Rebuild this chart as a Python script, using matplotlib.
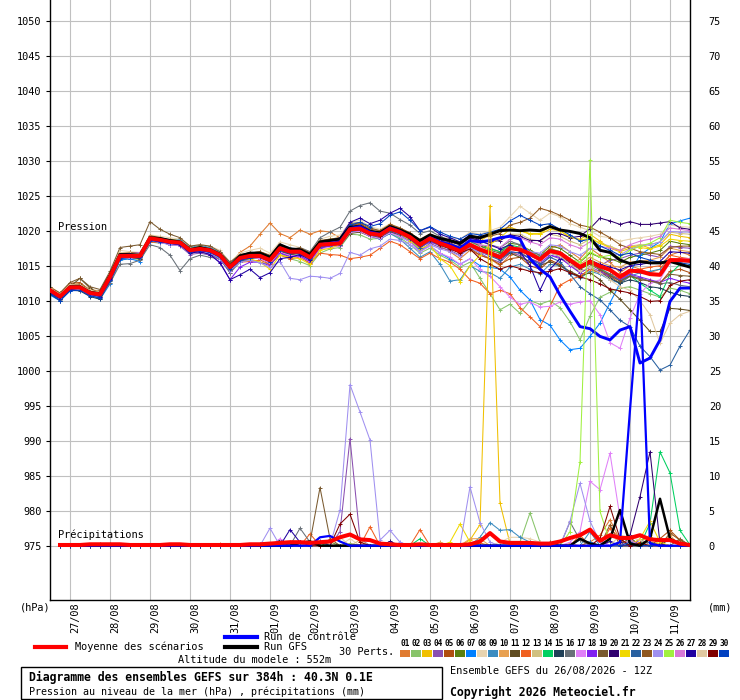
import matplotlib
matplotlib.use("Agg")
import matplotlib.pyplot as plt
from matplotlib.transforms import ScaledTranslation
from matplotlib.patches import Rectangle
from matplotlib.lines import Line2D

# GEFS ensemble run 26/08/2026 12Z, 6-hourly steps up to 384h
hours = list(range(0, 385, 6))
hours_rr = list(range(6, 385, 6))
day_hours = list(range(12, 384, 24))
day_labels = ["27/08", "28/08", "29/08", "30/08", "31/08", "01/09", "02/09", "03/09",
              "04/09", "05/09", "06/09", "07/09", "08/09", "09/09", "10/09", "11/09"]

pert_colors = ["#e07b30", "#88c46a", "#f0c000", "#8a4fb0", "#b04e10", "#5a8010",
               "#0080ff", "#e8d4b0", "#3c8cc0", "#e8a050", "#604c20", "#f06020",
               "#d0c080", "#00d060", "#204058", "#687078", "#e080f8", "#8020f0",
               "#7a5a30", "#300070", "#f0d800", "#2860a0", "#905820", "#a090f0",
               "#a0f040", "#d878d8", "#2000a0", "#e0c8a0", "#800000", "#0040c0"]

# sea level pressure (hPa)
mean_p = [1011.5, 1010.6, 1011.9, 1011.9, 1011.1, 1010.9, 1013.4, 1016.4, 1016.4, 1016.4,
          1018.9, 1018.7, 1018.4, 1018.3, 1017.2, 1017.4, 1017.2, 1016.5, 1014.8, 1016.1,
          1016.4, 1016.4, 1015.8, 1017.5, 1017.0, 1017.0, 1016.2, 1018.0, 1018.1, 1018.2,
          1020.2, 1020.3, 1019.6, 1019.4, 1020.3, 1019.8, 1019.1, 1018.0, 1018.9, 1018.2,
          1017.7, 1017.1, 1018.0, 1017.3, 1016.8, 1016.2, 1017.5, 1017.3, 1016.7, 1015.9,
          1017.1, 1016.8, 1015.8, 1014.8, 1015.6, 1014.9, 1014.4, 1013.4, 1014.3, 1014.2,
          1013.8, 1013.7, 1015.8, 1015.8, 1015.7]
ctl_p = [1011.4, 1010.5, 1011.8, 1011.9, 1011.0, 1010.8, 1013.2, 1016.4, 1016.5, 1016.3,
         1018.8, 1018.6, 1018.3, 1018.2, 1017.1, 1017.3, 1017.1, 1016.4, 1014.7, 1016.0,
         1016.3, 1016.4, 1015.8, 1017.4, 1017.0, 1017.0, 1016.2, 1018.0, 1018.2, 1018.4,
         1020.3, 1020.6, 1019.8, 1019.5, 1020.4, 1019.9, 1019.0, 1018.0, 1019.0, 1018.4,
         1018.0, 1017.5, 1018.6, 1018.4, 1018.6, 1019.0, 1019.2, 1018.8, 1016.0, 1014.5,
         1013.4, 1010.8, 1008.5, 1006.3, 1006.0, 1004.9, 1004.4, 1005.8, 1006.3, 1001.1,
         1001.8, 1004.4, 1009.9, 1011.8, 1011.8]
gfs_p = [1011.5, 1010.6, 1012.0, 1012.0, 1011.2, 1011.0, 1013.6, 1016.6, 1016.6, 1016.5,
         1019.0, 1018.9, 1018.6, 1018.4, 1017.3, 1017.6, 1017.3, 1016.6, 1014.9, 1016.4,
         1016.8, 1016.8, 1016.2, 1018.0, 1017.4, 1017.3, 1016.6, 1018.4, 1018.6, 1018.8,
         1020.5, 1020.6, 1019.9, 1019.7, 1020.6, 1020.1, 1019.5, 1018.6, 1019.4, 1018.9,
         1018.6, 1018.2, 1019.2, 1019.0, 1019.5, 1020.0, 1020.1, 1020.0, 1020.1, 1020.0,
         1020.6, 1020.1, 1019.9, 1019.6, 1019.0, 1017.2, 1016.9, 1015.8, 1015.3, 1015.6,
         1015.4, 1015.4, 1015.6, 1015.2, 1014.8]

p01 = [1011.8, 1010.9, 1012.3, 1012.0, 1011.4, 1011.0, 1013.0, 1016.0, 1016.6, 1016.8,
       1019.2, 1018.9, 1018.0, 1017.9, 1016.8, 1017.0, 1016.9, 1016.8, 1015.2, 1016.9,
       1017.8, 1019.5, 1021.1, 1019.6, 1019.0, 1020.1, 1019.5, 1020.0, 1019.8, 1019.0,
       1020.8, 1021.0, 1020.2, 1019.5, 1020.5, 1020.0, 1019.0, 1017.5, 1018.5, 1017.8,
       1017.0, 1016.0, 1017.2, 1016.5, 1016.0, 1015.0, 1016.5, 1017.0, 1016.0, 1015.5,
       1017.5, 1018.0, 1017.0, 1016.0, 1017.5, 1016.5, 1015.5, 1014.0, 1015.0, 1014.5,
       1014.0, 1014.5, 1016.5, 1017.0, 1016.5]
p02 = [1011.2, 1010.3, 1011.5, 1011.6, 1010.8, 1010.4, 1012.6, 1015.8, 1016.0, 1015.9,
       1018.4, 1018.2, 1018.6, 1018.0, 1016.9, 1017.0, 1016.6, 1016.0, 1014.2, 1015.6,
       1015.8, 1015.5, 1015.2, 1016.8, 1016.0, 1015.6, 1015.0, 1016.8, 1017.4, 1017.6,
       1019.5, 1019.4, 1018.8, 1018.9, 1019.6, 1019.0, 1018.0, 1016.8, 1017.5, 1016.5,
       1015.8, 1014.8, 1015.5, 1013.2, 1011.0, 1008.7, 1009.5, 1008.2, 1010.0, 1009.5,
       1010.0, 1009.0, 1007.0, 1004.4, 1007.8, 1010.5, 1011.2, 1011.8, 1012.0, 1011.5,
       1011.0, 1010.5, 1011.8, 1011.5, 1011.0]
p03 = [1011.6, 1010.8, 1012.0, 1012.2, 1011.3, 1011.2, 1013.8, 1016.9, 1016.7, 1016.5,
       1019.0, 1018.5, 1018.8, 1018.6, 1017.5, 1017.8, 1017.0, 1016.2, 1014.5, 1015.8,
       1016.2, 1016.0, 1015.5, 1017.0, 1016.5, 1016.8, 1016.0, 1018.5, 1018.8, 1019.0,
       1020.5, 1020.8, 1020.0, 1019.8, 1020.5, 1020.2, 1019.5, 1018.5, 1019.2, 1018.8,
       1018.5, 1018.0, 1019.0, 1018.5, 1019.5, 1020.2, 1020.5, 1020.0, 1019.5, 1019.5,
       1020.2, 1020.0, 1019.0, 1018.8, 1019.5, 1018.5, 1017.5, 1017.0, 1017.5, 1018.0,
       1017.5, 1018.0, 1019.5, 1019.2, 1019.0]
p04 = [1011.0, 1010.2, 1011.6, 1011.5, 1010.7, 1010.5, 1013.0, 1016.6, 1016.8, 1016.9,
       1019.0, 1018.8, 1018.2, 1017.8, 1016.6, 1016.8, 1016.5, 1016.0, 1014.0, 1015.8,
       1016.0, 1016.4, 1015.0, 1017.0, 1016.2, 1016.5, 1015.2, 1017.5, 1017.8, 1018.0,
       1020.0, 1020.5, 1019.2, 1019.0, 1020.0, 1019.2, 1018.6, 1017.2, 1018.2, 1017.6,
       1017.2, 1016.5, 1017.6, 1016.8, 1016.0, 1015.5, 1016.8, 1016.5, 1015.5, 1014.8,
       1016.5, 1016.0, 1015.2, 1014.5, 1015.5, 1015.0, 1015.8, 1016.0, 1016.5, 1016.8,
       1016.5, 1016.2, 1017.8, 1017.6, 1017.5]
p05 = [1011.9, 1011.0, 1012.5, 1012.6, 1011.5, 1011.1, 1013.6, 1016.2, 1016.0, 1016.1,
       1018.5, 1018.4, 1018.0, 1018.1, 1016.9, 1017.2, 1017.4, 1016.8, 1015.2, 1016.2,
       1016.8, 1017.0, 1016.5, 1018.0, 1017.5, 1017.2, 1016.5, 1018.2, 1018.5, 1018.8,
       1020.8, 1021.0, 1020.0, 1019.6, 1020.6, 1020.0, 1019.0, 1017.8, 1018.8, 1018.0,
       1017.5, 1016.8, 1017.5, 1016.5, 1016.0, 1015.2, 1016.0, 1016.2, 1015.0, 1014.5,
       1015.8, 1015.2, 1014.0, 1013.5, 1014.5, 1014.0, 1013.5, 1012.5, 1013.5, 1013.2,
       1012.8, 1012.5, 1014.2, 1014.5, 1014.0]
p06 = [1011.4, 1010.5, 1011.8, 1011.8, 1011.0, 1010.8, 1013.2, 1016.5, 1016.2, 1016.3,
       1018.7, 1018.5, 1018.3, 1018.4, 1017.4, 1017.6, 1017.5, 1016.8, 1015.0, 1016.5,
       1016.9, 1016.8, 1016.2, 1017.8, 1017.2, 1017.5, 1016.8, 1018.5, 1018.6, 1018.4,
       1020.4, 1020.6, 1019.8, 1019.6, 1020.4, 1020.0, 1019.2, 1018.0, 1019.0, 1018.5,
       1018.0, 1017.5, 1018.5, 1018.0, 1017.5, 1017.0, 1018.2, 1018.0, 1017.2, 1016.5,
       1017.8, 1017.5, 1016.5, 1015.5, 1016.8, 1016.2, 1016.0, 1015.5, 1016.2, 1016.5,
       1016.8, 1017.2, 1018.5, 1018.2, 1018.0]
p07 = [1010.8, 1010.0, 1011.4, 1011.6, 1010.9, 1010.2, 1012.4, 1015.8, 1016.0, 1015.6,
       1018.6, 1018.9, 1018.7, 1018.2, 1017.0, 1017.3, 1017.0, 1016.2, 1014.6, 1016.0,
       1016.6, 1016.9, 1016.4, 1017.8, 1017.6, 1017.0, 1016.4, 1018.4, 1018.2, 1018.5,
       1020.4, 1020.2, 1019.4, 1019.0, 1019.8, 1019.2, 1018.4, 1017.2, 1017.8, 1016.8,
       1016.0, 1015.2, 1016.0, 1015.0, 1014.8, 1014.5, 1013.4, 1011.5, 1010.1, 1007.3,
       1006.5, 1004.4, 1003.0, 1003.2, 1004.9, 1006.8, 1009.7, 1012.5, 1014.0, 1016.5,
       1017.5, 1018.4, 1021.0, 1021.4, 1021.8]
p08 = [1011.7, 1010.9, 1012.2, 1012.3, 1011.6, 1011.3, 1014.0, 1017.2, 1017.0, 1016.9,
       1019.4, 1019.2, 1019.0, 1018.8, 1017.8, 1018.0, 1017.8, 1017.2, 1015.5, 1016.8,
       1017.2, 1017.5, 1016.8, 1018.4, 1018.0, 1017.6, 1017.0, 1018.8, 1019.2, 1019.4,
       1021.2, 1021.5, 1020.6, 1020.2, 1021.0, 1020.4, 1019.6, 1018.8, 1019.6, 1019.0,
       1019.0, 1018.8, 1019.8, 1019.5, 1020.0, 1020.5, 1022.0, 1023.5, 1022.5, 1021.5,
       1022.5, 1022.0, 1021.0, 1020.5, 1020.0, 1019.2, 1019.0, 1018.5, 1018.8, 1019.0,
       1019.2, 1019.5, 1020.8, 1020.6, 1020.5]
p09 = [1011.3, 1010.4, 1011.7, 1012.0, 1011.2, 1010.9, 1013.5, 1016.3, 1016.6, 1016.2,
       1018.8, 1018.5, 1018.6, 1018.7, 1017.6, 1017.9, 1017.6, 1016.9, 1015.4, 1016.4,
       1016.5, 1016.2, 1015.6, 1017.2, 1016.8, 1016.6, 1016.0, 1017.6, 1017.8, 1018.0,
       1019.8, 1020.0, 1019.2, 1018.8, 1019.6, 1018.8, 1017.5, 1016.2, 1017.0, 1015.2,
       1012.8, 1013.0, 1015.0, 1014.2, 1014.0, 1013.2, 1014.8, 1015.2, 1014.5, 1013.8,
       1015.2, 1015.0, 1014.0, 1013.2, 1014.2, 1013.8, 1013.0, 1012.5, 1013.5, 1014.0,
       1014.2, 1014.5, 1015.8, 1015.6, 1015.5]
p10 = [1012.0, 1011.1, 1012.4, 1012.4, 1011.6, 1011.4, 1013.9, 1016.8, 1016.9, 1016.7,
       1019.1, 1018.8, 1018.5, 1018.4, 1017.4, 1017.5, 1017.3, 1016.6, 1014.9, 1016.3,
       1016.6, 1016.8, 1016.3, 1017.6, 1017.3, 1017.4, 1016.6, 1018.3, 1018.4, 1018.6,
       1020.6, 1020.5, 1019.8, 1019.8, 1020.8, 1020.3, 1019.4, 1018.2, 1019.2, 1018.4,
       1017.8, 1017.0, 1018.2, 1017.2, 1016.6, 1016.0, 1017.4, 1017.8, 1017.0, 1016.2,
       1017.5, 1017.0, 1016.0, 1015.2, 1016.2, 1015.5, 1015.0, 1014.8, 1015.5, 1015.6,
       1015.8, 1016.2, 1017.5, 1017.2, 1017.0]
p11 = [1011.5, 1010.6, 1012.0, 1013.2, 1011.8, 1011.0, 1013.0, 1016.0, 1016.2, 1016.4,
       1018.6, 1018.4, 1018.0, 1018.0, 1017.0, 1017.0, 1016.8, 1016.4, 1014.4, 1015.9,
       1016.2, 1016.0, 1015.6, 1017.2, 1016.6, 1016.9, 1016.0, 1017.8, 1018.0, 1017.8,
       1019.6, 1019.8, 1019.2, 1019.0, 1019.8, 1019.4, 1018.8, 1017.6, 1018.6, 1018.0,
       1017.6, 1017.2, 1018.0, 1017.2, 1016.6, 1016.0, 1016.8, 1016.2, 1015.6, 1015.0,
       1015.6, 1015.0, 1014.2, 1013.5, 1014.0, 1013.0, 1011.5, 1010.2, 1008.7, 1007.2,
       1005.6, 1005.6, 1008.9, 1008.8, 1008.6]
p12 = [1011.2, 1010.3, 1011.8, 1011.9, 1011.0, 1010.7, 1013.2, 1016.2, 1016.1, 1016.0,
       1018.4, 1018.3, 1018.1, 1017.9, 1016.9, 1017.1, 1017.0, 1016.3, 1014.6, 1015.5,
       1015.6, 1015.8, 1015.2, 1016.5, 1016.0, 1016.2, 1015.4, 1016.8, 1016.6, 1016.5,
       1016.0, 1016.2, 1016.5, 1017.5, 1018.5, 1018.0, 1017.0, 1016.0, 1016.8, 1016.0,
       1015.5, 1014.5, 1013.0, 1012.5, 1011.0, 1011.5, 1011.0, 1009.0, 1007.7, 1006.3,
       1009.2, 1012.2, 1013.0, 1013.5, 1014.5, 1014.0, 1013.8, 1013.0, 1014.0, 1014.5,
       1014.8, 1015.0, 1016.5, 1016.2, 1016.0]
p13 = [1011.8, 1010.8, 1012.0, 1012.1, 1011.3, 1011.2, 1013.7, 1016.7, 1016.5, 1016.6,
       1019.0, 1018.6, 1018.5, 1018.5, 1017.3, 1017.6, 1017.4, 1016.6, 1015.0, 1016.3,
       1016.4, 1016.6, 1016.0, 1017.6, 1017.1, 1017.2, 1016.4, 1018.2, 1018.4, 1018.5,
       1020.4, 1020.4, 1019.8, 1019.5, 1020.4, 1019.9, 1019.2, 1018.3, 1019.1, 1018.5,
       1018.2, 1017.8, 1018.8, 1018.3, 1018.5, 1018.8, 1019.5, 1019.5, 1018.8, 1018.5,
       1019.5, 1019.2, 1018.5, 1018.0, 1018.8, 1018.2, 1017.8, 1017.2, 1017.8, 1018.0,
       1018.0, 1018.4, 1019.8, 1019.6, 1019.5]
p14 = [1011.3, 1010.5, 1011.9, 1011.8, 1011.0, 1010.8, 1013.3, 1016.4, 1016.5, 1016.6,
       1018.9, 1018.6, 1018.4, 1018.2, 1017.1, 1017.3, 1017.1, 1016.4, 1014.7, 1016.0,
       1016.3, 1016.5, 1016.0, 1017.4, 1016.9, 1017.0, 1016.3, 1018.1, 1018.2, 1018.3,
       1020.2, 1020.4, 1019.6, 1019.4, 1020.2, 1019.7, 1019.0, 1017.9, 1018.8, 1018.2,
       1017.8, 1017.4, 1018.4, 1017.8, 1017.4, 1017.0, 1018.0, 1017.6, 1016.8, 1016.2,
       1017.4, 1017.0, 1015.8, 1014.8, 1015.6, 1014.6, 1013.8, 1012.8, 1013.6, 1012.5,
       1011.5, 1010.6, 1013.8, 1015.2, 1015.0]
p15 = [1011.0, 1010.0, 1011.5, 1011.4, 1010.6, 1010.2, 1012.8, 1016.0, 1016.2, 1016.0,
       1018.5, 1018.4, 1018.2, 1018.0, 1016.8, 1017.0, 1016.8, 1016.0, 1014.2, 1015.6,
       1016.0, 1016.2, 1015.4, 1017.0, 1016.6, 1016.8, 1016.0, 1017.6, 1017.9, 1018.0,
       1019.9, 1020.0, 1019.4, 1019.2, 1020.0, 1019.6, 1018.9, 1017.8, 1018.6, 1018.0,
       1017.5, 1017.0, 1018.0, 1017.5, 1017.0, 1016.5, 1017.6, 1017.2, 1016.4, 1015.8,
       1016.8, 1016.4, 1015.2, 1014.0, 1014.8, 1014.0, 1013.2, 1012.5, 1013.0, 1012.6,
       1012.0, 1011.8, 1011.2, 1010.8, 1010.6]
p16 = [1011.0, 1010.1, 1011.5, 1011.6, 1010.9, 1010.5, 1012.5, 1015.2, 1015.3, 1015.8,
       1018.0, 1017.6, 1016.5, 1014.3, 1016.0, 1016.5, 1016.2, 1016.0, 1014.0, 1015.5,
       1016.0, 1016.6, 1016.0, 1017.4, 1017.2, 1017.6, 1017.0, 1019.0, 1019.8, 1020.5,
       1022.8, 1023.6, 1024.0, 1022.8, 1022.5, 1021.6, 1020.8, 1019.6, 1020.0, 1019.2,
       1018.6, 1018.0, 1019.0, 1018.5, 1018.0, 1017.6, 1018.5, 1018.0, 1017.0, 1016.5,
       1017.2, 1016.5, 1015.5, 1014.8, 1015.5, 1014.5, 1013.8, 1013.0, 1013.6, 1013.2,
       1012.8, 1012.4, 1012.6, 1012.2, 1012.0]
p17 = [1011.4, 1010.6, 1011.8, 1011.7, 1010.9, 1010.6, 1013.1, 1016.1, 1016.3, 1016.2,
       1018.6, 1018.4, 1018.0, 1017.9, 1016.9, 1017.2, 1017.0, 1016.3, 1014.6, 1015.9,
       1016.2, 1016.0, 1015.4, 1016.9, 1016.5, 1016.3, 1015.6, 1017.4, 1017.6, 1017.8,
       1019.8, 1019.9, 1019.2, 1018.9, 1019.7, 1019.2, 1018.4, 1017.0, 1017.8, 1016.8,
       1016.2, 1015.2, 1016.0, 1014.5, 1013.5, 1012.0, 1010.5, 1009.5, 1009.8, 1009.1,
       1009.2, 1009.8, 1009.5, 1009.8, 1010.0, 1008.0, 1004.0, 1003.2, 1007.5, 1011.0,
       1012.5, 1013.0, 1015.5, 1016.0, 1016.0]
p18 = [1011.6, 1010.7, 1012.0, 1012.0, 1011.2, 1011.0, 1013.5, 1016.6, 1016.8, 1016.8,
       1019.0, 1018.8, 1018.4, 1018.3, 1017.0, 1017.2, 1016.6, 1015.5, 1013.0, 1014.8,
       1015.5, 1015.5, 1015.0, 1016.8, 1016.3, 1016.4, 1015.6, 1017.6, 1017.8, 1018.0,
       1020.0, 1020.2, 1019.5, 1019.2, 1020.0, 1019.5, 1018.8, 1017.6, 1018.4, 1017.9,
       1017.5, 1016.9, 1017.8, 1017.0, 1016.5, 1016.0, 1017.0, 1016.8, 1016.0, 1015.4,
       1016.5, 1016.2, 1015.0, 1014.0, 1014.8, 1014.2, 1013.5, 1013.0, 1013.8, 1013.4,
       1013.0, 1012.6, 1013.2, 1012.8, 1012.5]
p19 = [1011.9, 1011.1, 1012.6, 1013.2, 1012.0, 1011.6, 1014.2, 1017.6, 1017.8, 1018.0,
       1021.3, 1020.2, 1019.5, 1019.0, 1017.8, 1018.0, 1017.8, 1017.0, 1015.5, 1016.6,
       1016.8, 1017.0, 1016.4, 1018.0, 1017.4, 1017.5, 1016.8, 1018.6, 1018.8, 1019.0,
       1021.0, 1021.2, 1020.4, 1020.0, 1020.8, 1020.2, 1019.4, 1018.4, 1019.2, 1018.6,
       1018.2, 1017.6, 1018.6, 1017.8, 1017.2, 1016.8, 1017.8, 1017.4, 1016.6, 1016.0,
       1017.0, 1016.6, 1015.5, 1014.5, 1015.2, 1014.4, 1013.6, 1012.8, 1013.5, 1013.0,
       1012.8, 1012.6, 1013.8, 1013.6, 1013.5]
p20 = [1011.5, 1010.6, 1012.0, 1012.0, 1011.3, 1010.9, 1013.4, 1016.5, 1016.6, 1016.5,
       1018.8, 1018.6, 1018.4, 1018.4, 1017.3, 1017.5, 1017.2, 1016.6, 1014.9, 1016.2,
       1016.6, 1016.7, 1016.0, 1017.7, 1017.2, 1017.3, 1016.5, 1018.3, 1018.5, 1018.6,
       1020.6, 1020.8, 1020.0, 1019.8, 1020.7, 1020.2, 1019.4, 1018.4, 1019.3, 1018.7,
       1018.4, 1018.0, 1019.0, 1018.6, 1018.4, 1018.6, 1019.4, 1019.2, 1018.6, 1018.6,
       1019.6, 1019.6, 1019.0, 1019.2, 1020.3, 1021.8, 1021.4, 1020.9, 1021.3, 1020.9,
       1020.9, 1021.1, 1021.3, 1020.4, 1020.2]
p21 = [1011.7, 1010.8, 1012.1, 1012.1, 1011.4, 1011.1, 1013.6, 1016.5, 1016.4, 1016.6,
       1018.8, 1018.6, 1018.3, 1018.2, 1017.2, 1017.4, 1017.2, 1016.5, 1014.6, 1016.0,
       1016.0, 1015.5, 1014.5, 1016.5, 1016.2, 1016.0, 1015.2, 1017.2, 1017.5, 1018.0,
       1020.0, 1020.5, 1019.6, 1019.4, 1020.2, 1019.6, 1018.6, 1017.4, 1018.0, 1016.0,
       1015.0, 1012.7, 1015.0, 1016.5, 1018.0, 1019.0, 1020.2, 1020.0, 1019.6, 1019.6,
       1020.6, 1020.0, 1019.2, 1018.6, 1019.0, 1018.2, 1017.6, 1017.2, 1017.8, 1017.6,
       1017.4, 1017.8, 1018.8, 1018.6, 1018.5]
p22 = [1011.1, 1010.2, 1011.6, 1011.7, 1010.9, 1010.6, 1013.0, 1016.2, 1016.3, 1016.2,
       1018.6, 1018.5, 1018.2, 1018.1, 1017.0, 1017.2, 1017.0, 1016.3, 1014.5, 1015.9,
       1016.2, 1016.2, 1015.6, 1017.2, 1016.8, 1016.8, 1016.0, 1017.8, 1018.0, 1018.0,
       1019.9, 1020.1, 1019.4, 1019.2, 1020.0, 1019.6, 1018.8, 1017.6, 1018.6, 1017.9,
       1017.4, 1016.9, 1017.8, 1017.0, 1016.4, 1015.8, 1017.0, 1016.8, 1016.0, 1015.2,
       1016.2, 1015.6, 1013.8, 1012.0, 1011.0, 1010.1, 1008.7, 1007.2, 1006.3, 1003.5,
       1002.0, 1000.1, 1000.8, 1003.5, 1005.8]
p23 = [1011.6, 1010.7, 1012.2, 1012.4, 1011.5, 1011.2, 1013.8, 1016.8, 1016.9, 1016.7,
       1019.3, 1019.0, 1018.7, 1018.5, 1017.4, 1017.6, 1017.4, 1016.8, 1015.0, 1016.4,
       1016.7, 1016.9, 1016.2, 1017.8, 1017.4, 1017.5, 1016.8, 1018.5, 1018.7, 1018.9,
       1020.8, 1021.0, 1020.2, 1020.0, 1020.9, 1020.4, 1019.7, 1018.7, 1019.5, 1018.9,
       1018.6, 1018.2, 1019.4, 1019.0, 1019.2, 1019.6, 1020.8, 1021.2, 1021.8, 1023.2,
       1022.8, 1022.2, 1021.5, 1020.8, 1020.5, 1019.8, 1019.0, 1018.0, 1017.5, 1017.0,
       1016.8, 1016.6, 1017.6, 1017.8, 1017.8]
p24 = [1011.3, 1010.4, 1011.7, 1011.6, 1010.8, 1010.6, 1013.0, 1016.0, 1016.1, 1016.2,
       1018.6, 1018.3, 1018.0, 1017.9, 1016.8, 1017.0, 1016.8, 1016.0, 1014.3, 1015.5,
       1015.8, 1015.4, 1014.8, 1015.6, 1013.2, 1013.0, 1013.5, 1013.4, 1013.2, 1013.9,
       1016.9, 1016.5, 1017.4, 1017.8, 1018.8, 1018.6, 1018.0, 1017.0, 1018.0, 1017.4,
       1017.0, 1016.4, 1017.5, 1016.9, 1016.6, 1016.2, 1017.4, 1017.6, 1017.0, 1016.8,
       1018.0, 1017.8, 1017.0, 1016.5, 1017.5, 1017.2, 1016.8, 1016.5, 1017.4, 1017.8,
       1018.0, 1018.4, 1019.9, 1019.8, 1019.8]
p25 = [1011.5, 1010.7, 1012.0, 1011.9, 1011.2, 1011.0, 1013.5, 1016.6, 1016.4, 1016.5,
       1018.9, 1018.7, 1018.5, 1018.3, 1017.2, 1017.5, 1017.3, 1016.6, 1014.8, 1016.1,
       1016.4, 1016.4, 1015.8, 1017.5, 1017.0, 1017.0, 1016.2, 1018.0, 1018.1, 1018.2,
       1020.2, 1020.3, 1019.6, 1019.4, 1020.3, 1019.8, 1019.1, 1018.0, 1018.9, 1018.2,
       1017.7, 1017.1, 1018.0, 1017.3, 1016.8, 1016.2, 1017.5, 1017.3, 1016.7, 1015.9,
       1017.1, 1016.8, 1015.8, 1015.6, 1017.0, 1016.2, 1016.5, 1016.2, 1017.2, 1017.8,
       1018.2, 1019.0, 1021.5, 1021.2, 1021.0]
p26 = [1011.7, 1010.8, 1012.1, 1012.0, 1011.2, 1011.0, 1013.6, 1016.7, 1016.6, 1016.4,
       1018.8, 1018.7, 1018.6, 1018.4, 1017.4, 1017.6, 1017.4, 1016.7, 1015.0, 1016.3,
       1016.6, 1016.6, 1016.0, 1017.6, 1017.1, 1017.2, 1016.4, 1018.2, 1018.3, 1018.5,
       1020.5, 1020.6, 1019.9, 1019.6, 1020.5, 1020.0, 1019.3, 1018.2, 1019.1, 1018.4,
       1018.0, 1017.5, 1018.6, 1018.0, 1017.8, 1017.6, 1018.8, 1019.0, 1018.4, 1018.0,
       1019.0, 1018.8, 1018.0, 1017.5, 1018.4, 1017.8, 1017.5, 1017.2, 1018.0, 1018.5,
       1018.8, 1019.2, 1020.4, 1020.2, 1020.0]
p27 = [1011.2, 1010.3, 1011.6, 1011.8, 1011.0, 1010.6, 1013.1, 1016.3, 1016.5, 1016.4,
       1018.7, 1018.5, 1018.2, 1018.0, 1016.8, 1017.0, 1016.6, 1015.4, 1013.0, 1013.7,
       1014.5, 1013.3, 1014.0, 1016.0, 1016.2, 1016.6, 1015.8, 1018.0, 1018.6, 1019.0,
       1021.2, 1021.8, 1021.0, 1021.5, 1022.5, 1023.2, 1022.0, 1020.0, 1020.5, 1019.5,
       1019.0, 1018.4, 1019.4, 1018.6, 1018.0, 1017.4, 1018.0, 1017.0, 1015.0, 1011.5,
       1014.5, 1016.0, 1015.6, 1014.8, 1015.8, 1015.2, 1014.8, 1014.4, 1015.0, 1015.2,
       1015.4, 1015.6, 1017.0, 1016.9, 1016.8]
p28 = [1011.8, 1010.9, 1012.3, 1012.2, 1011.5, 1011.2, 1013.8, 1016.9, 1016.8, 1016.7,
       1019.1, 1018.9, 1018.6, 1018.4, 1017.4, 1017.6, 1017.3, 1016.6, 1014.9, 1016.3,
       1016.6, 1016.7, 1016.1, 1017.6, 1017.2, 1017.2, 1016.5, 1018.2, 1018.4, 1018.5,
       1020.4, 1020.5, 1019.8, 1019.6, 1020.5, 1020.0, 1019.3, 1018.2, 1019.0, 1018.4,
       1018.0, 1017.4, 1018.3, 1017.6, 1017.0, 1016.4, 1017.6, 1017.4, 1016.6, 1015.8,
       1016.8, 1016.4, 1015.2, 1014.2, 1014.8, 1014.0, 1013.0, 1012.0, 1011.5, 1010.0,
       1008.0, 1003.9, 1006.8, 1008.0, 1008.5]
p29 = [1011.6, 1010.6, 1011.9, 1012.0, 1011.2, 1010.9, 1013.3, 1016.4, 1016.5, 1016.4,
       1018.9, 1018.7, 1018.4, 1018.3, 1017.2, 1017.4, 1017.2, 1016.5, 1014.8, 1016.1,
       1016.4, 1016.5, 1015.9, 1017.4, 1017.0, 1017.0, 1016.3, 1018.0, 1018.2, 1018.2,
       1020.1, 1020.2, 1019.6, 1019.3, 1020.2, 1019.7, 1019.0, 1017.9, 1018.7, 1018.0,
       1017.4, 1016.8, 1017.4, 1016.0, 1015.2, 1014.5, 1015.0, 1014.6, 1014.2, 1014.0,
       1014.2, 1014.6, 1014.0, 1013.4, 1013.0, 1012.4, 1011.7, 1011.4, 1011.1, 1010.6,
       1009.9, 1010.0, 1012.2, 1012.8, 1013.0]
p30 = [1011.0, 1010.0, 1011.4, 1011.5, 1010.7, 1010.4, 1012.9, 1016.0, 1016.2, 1016.3,
       1018.6, 1018.4, 1018.2, 1018.1, 1017.0, 1017.2, 1016.9, 1016.2, 1014.5, 1015.8,
       1016.1, 1016.3, 1015.6, 1017.3, 1016.8, 1016.9, 1016.1, 1018.0, 1018.4, 1018.8,
       1020.8, 1021.2, 1020.6, 1021.0, 1022.2, 1022.7, 1021.5, 1020.0, 1020.6, 1019.8,
       1019.2, 1018.8, 1019.6, 1019.4, 1019.8, 1020.2, 1021.4, 1022.2, 1021.5, 1020.8,
       1021.0, 1020.2, 1019.4, 1018.5, 1018.8, 1017.8, 1017.2, 1016.5, 1016.8, 1016.2,
       1015.8, 1015.5, 1015.8, 1015.4, 1015.2]

# 6h precipitation (mm), steps 6h..384h
mean_rr = [0.1, 0.1, 0.1, 0.2, 0.2, 0.2, 0.2, 0.1, 0.1, 0.1, 0.1, 0.2, 0.2, 0.1, 0.1, 0.1,
           0.1, 0.1, 0.1, 0.2, 0.2, 0.3, 0.4, 0.5, 0.5, 0.4, 0.5, 0.6, 1.2, 1.6, 0.9, 0.8,
           0.3, 0.2, 0.1, 0.1, 0.2, 0.1, 0.1, 0.1, 0.1, 0.2, 0.6, 1.8, 0.6, 0.4, 0.4, 0.4,
           0.3, 0.3, 0.6, 1.1, 1.5, 2.3, 0.7, 1.5, 1.1, 1.1, 1.5, 0.9, 0.8, 0.8, 0.3, 0.1]
ctl_rr = [0, 0, 0, 0, 0, 0, 0, 0, 0, 0, 0, 0, 0, 0, 0, 0,
          0, 0, 0, 0, 0, 0, 0, 0, 0, 0, 1.2, 1.4, 0.6, 0, 0, 0,
          0, 0, 0, 0, 0, 0, 0, 0, 0, 0, 0, 0, 0, 0, 0, 0,
          0, 0, 0, 0, 0, 0, 0, 0, 0.5, 19.4, 37.5, 0.3, 0, 0, 0, 0]
gfs_rr = [0, 0, 0, 0, 0, 0, 0, 0, 0, 0, 0, 0, 0, 0, 0, 0,
          0, 0, 0, 0, 0, 0, 0, 0, 0.4, 0.6, 0, 0, 0, 0, 0, 0,
          0, 0, 0, 0, 0, 0, 0, 0, 0, 0, 0, 0, 0, 0, 0, 0,
          0, 0, 0, 0, 1.0, 0.3, 0, 1.0, 5.1, 0.3, 0, 1.0, 6.7, 1.0, 0.2, 0]

r01 = [0, 0, 0, 0, 0, 0, 0, 0, 0, 0, 0, 0, 0, 0, 0, 0,
       0.3, 0, 0, 0, 0, 0, 0.5, 0, 0, 0, 0, 0, 0, 0.3, 0, 0,
       0, 0, 0, 0, 0, 0, 0, 0, 0, 0, 0.4, 0, 0, 0, 0, 0,
       0, 0, 0, 0.3, 0, 0.5, 1.5, 3.7, 0.8, 0, 0.3, 0.5, 0.2, 0, 0, 0]
r02 = [0, 0, 0, 0, 0, 0, 0, 0, 0, 0, 0, 0, 0, 0, 0, 0,
       0, 0, 0, 0, 0, 0, 0, 0, 0, 0, 0, 0, 0, 0.3, 0, 0,
       0, 0, 0, 0, 0, 0, 0, 0, 0, 0, 0, 0, 0, 0, 0.5, 4.7,
       0.5, 0, 0, 0, 0, 0, 0, 0, 0, 0, 0, 0, 0, 0, 0, 0]
r03 = [0, 0, 0, 0, 0, 0, 0, 0, 0, 0, 0, 0, 0, 0, 0, 0,
       0, 0, 0, 0, 0, 0, 0, 0, 0, 0, 0, 0, 0, 0, 0, 0,
       0, 0, 0, 0, 0, 0, 0, 0, 0, 0.8, 3.0, 48.6, 6.1, 0.3, 0, 0,
       0, 0, 0, 0, 0, 0, 0, 0, 0, 0, 0.5, 1.5, 0, 0, 0, 0]
r04 = [0, 0, 0, 0, 0, 0, 0, 0, 0, 0, 0, 0, 0, 0, 0, 0,
       0, 0, 0, 0, 0, 0, 0, 0, 0, 0, 0.5, 0, 2.0, 15.3, 1.0, 0,
       0, 0, 0, 0, 0, 0, 0, 0, 0, 0, 0, 0, 0, 0, 0, 0,
       0, 0, 0, 0, 0, 0, 0, 0, 0, 0, 0, 0, 0, 0, 0, 0]
r05 = [0, 0, 0, 0, 0, 0, 0, 0, 0, 0, 0, 0, 0, 0, 0, 0,
       0, 0, 0, 0, 0, 0, 0, 0, 0, 0, 0, 0, 0, 0, 0, 0,
       0, 0, 0, 0, 0, 0, 0, 0, 0, 0, 0, 0, 0, 0, 0, 0,
       0, 0, 0, 0, 0, 0.5, 0, 0, 0, 0, 0, 0, 1.0, 2.2, 0.8, 0]
r06 = [0, 0, 0, 0, 0.3, 0.3, 0, 0, 0, 0, 0, 0, 0, 0, 0, 0,
       0, 0, 0, 0, 0, 0, 0, 0, 0, 0, 0, 0.5, 0, 0, 0, 0,
       0, 0, 0, 0, 0, 0, 0, 0, 0, 0, 0, 0, 0, 0, 0, 0,
       0, 0, 0, 0, 0, 0, 0, 0, 0, 0.8, 0, 0, 0, 0, 0, 0]
r07 = [0, 0, 0, 0, 0, 0, 0, 0, 0, 0, 0, 0, 0, 0, 0, 0,
       0, 0, 0, 0, 0, 0, 0, 0, 0.5, 0, 0, 0, 0, 0, 0, 0,
       0, 0, 0, 0, 0, 0, 0, 0, 0, 0, 0, 0, 0, 0, 0, 0,
       0, 0, 0, 0, 0.8, 0.5, 0, 0, 0, 0, 0, 0, 0, 0, 0, 0]
r08 = [0, 0, 0, 0, 0, 0, 0, 0, 0, 0, 0, 0, 0, 0, 0, 0,
       0, 0, 0, 0, 0, 0, 0, 0, 0, 0, 0, 0, 0, 1.0, 0, 0,
       0, 0, 0, 0, 0, 0, 0, 0, 0, 0, 0, 0, 0.5, 1.2, 1.2, 1.0,
       0.5, 0, 0, 0, 0, 0, 0, 0, 0, 0, 0, 0, 0, 0, 0, 0]
r09 = [0, 0, 0, 0, 0, 0, 0, 0, 0, 0, 0, 0, 0, 0, 0, 0,
       0, 0, 0, 0, 0, 0, 0, 0, 0, 0, 0, 0, 0, 0, 0, 0,
       0, 0, 0, 0, 0, 0, 0, 0, 0, 0, 1.2, 3.3, 2.2, 2.3, 1.2, 0.5,
       0, 0, 0, 0, 0, 2.0, 0, 0, 0, 0, 0, 0, 0, 0, 0, 0]
r10 = [0, 0, 0, 0, 0, 0, 0, 0, 0, 0, 0, 0, 0, 0, 0, 0,
       0, 0, 0, 0, 0, 0, 0, 0, 0, 0, 0, 0, 0, 0, 0, 0,
       0, 0, 0, 0, 0, 0, 0.5, 0, 0, 1.0, 1.0, 0, 0, 0, 0, 0,
       0, 0, 0, 0, 0, 0, 0, 0, 0, 0, 0, 0, 0, 1.5, 0, 0]
r11 = [0, 0, 0, 0, 0, 0, 0, 0, 0, 0, 0, 0, 0, 0, 0, 0,
       0, 0, 0, 0, 0, 0, 0, 0, 0, 0, 0, 0, 0, 0, 0, 0,
       0, 0, 0, 0, 0, 0, 0, 0, 0, 0, 0, 0, 0, 0, 0, 0,
       0, 0, 0, 0, 0, 0, 0, 0, 0, 1.2, 0, 0, 0, 1.0, 0, 0]
r12 = [0, 0, 0, 0, 0, 0, 0, 0, 0, 0, 0, 0, 0, 0, 0, 0,
       0, 0, 0, 0, 0, 0, 0, 0, 0, 1.7, 0, 0, 0, 0, 0, 2.7,
       0, 0, 0, 0, 2.3, 0, 0, 0, 0, 0, 0, 0, 0, 0, 0, 0,
       0, 0, 0, 0, 1.5, 0, 0, 2.5, 1.0, 0, 0, 0, 0, 0, 0, 0]
r13 = [0, 0, 0, 0, 0, 0, 0, 0, 0, 0, 0, 0, 0, 0, 0, 0,
       0, 0, 0, 0, 0, 0, 0, 0, 0, 0, 0, 0, 0, 0, 0.8, 0,
       0, 0, 0, 0, 0, 0, 0, 0, 0, 0, 0, 0, 0, 0, 0, 0,
       0, 0.5, 0, 0, 0, 0, 0, 0, 0, 0, 1.0, 0, 0, 0, 0, 0]
r14 = [0, 0, 0, 0, 0, 0, 0, 0, 0, 0, 0, 0, 0, 0, 0, 0,
       0, 0, 0, 0, 0, 0, 0, 0, 0, 0, 0, 0, 0, 0, 0, 0,
       0, 0, 0, 0, 1.0, 0, 0, 0, 0, 0, 0, 0, 0, 0, 0, 0,
       0, 0, 0, 0, 0, 0, 0, 0, 0, 0, 0, 3.2, 13.4, 10.4, 2.2, 0.1]
r15 = [0, 0, 0, 0, 0, 0, 0, 0, 0, 0, 0, 0, 0, 0, 0, 0,
       0, 0, 0, 0, 0, 0, 0.8, 0, 0, 0, 0, 0, 0, 0, 0, 0,
       0, 0, 0, 0, 0, 0, 0, 0, 0, 0, 0, 0, 0, 0, 0, 0,
       0, 0, 0, 0, 0, 0, 0, 0, 0.5, 0, 0, 0, 0, 0, 0, 0]
r16 = [0, 0, 0, 0, 0, 0, 0, 0, 0, 0, 0, 0, 0, 0, 0, 0,
       0, 0, 0, 0, 0, 0, 0, 0, 2.5, 0.5, 0, 0, 0, 0, 0, 0,
       0, 0, 0, 0, 0, 0, 0, 0, 0, 0, 0, 0, 0, 0, 0, 0,
       0, 0, 0, 3.4, 0.8, 0, 0, 0, 0, 0, 0, 0, 0, 0, 0, 0]
r17 = [0, 0, 0, 0, 0, 0, 0, 0, 0, 0, 0, 0, 0, 0, 0, 0,
       0, 0, 0, 0, 0, 0, 1.0, 0, 0, 0, 0, 0, 0, 0, 0, 0,
       0, 0, 0, 0, 0, 0, 0, 0, 0, 0, 0, 0, 0, 0, 0, 0,
       0, 0, 0, 0.5, 2.0, 9.2, 8.0, 13.2, 4.0, 0.5, 0, 0, 0, 0, 0, 0]
r18 = [0, 0, 0, 0, 0, 0, 0, 0, 0, 0, 0, 0, 0, 0, 0, 0,
       0, 0, 0, 0, 0, 0, 0, 0.5, 0, 0, 0, 0, 0, 0, 0, 0,
       0, 0, 0, 0, 0, 0, 0, 0, 0, 0, 0, 0, 0, 0, 0, 0,
       0, 0, 0, 0, 0, 0, 0, 0, 0, 0, 0.8, 0, 0, 0, 0, 0]
r19 = [0, 0, 0, 0, 0, 0, 0, 0, 0, 0, 0, 0, 0, 0, 0, 0,
       0, 0, 0, 0, 0, 0, 0, 0, 0, 0.5, 8.3, 1.0, 0, 0, 0, 0,
       0, 0, 0, 0, 0, 0, 0, 0, 0, 0, 0, 0, 0, 0, 0, 0,
       0, 0, 0, 0, 0, 0, 0, 0, 0, 0, 0, 0, 0, 0, 1.0, 0]
r20 = [0, 0, 0, 0, 0, 0, 0, 0, 0, 0, 0, 0, 0, 0, 0, 0,
       0, 0, 0, 0, 0, 0, 0, 0, 0.5, 0, 0, 0, 0, 0, 0, 0,
       0, 0.6, 0, 0, 0, 0, 0, 0, 0, 0, 0, 0, 0, 0, 0, 0,
       0, 0, 0, 0, 0, 0, 0, 0, 0.5, 1.5, 7.0, 13.4, 0.3, 0, 0, 0]
r21 = [0, 0, 0, 0, 0, 0, 0, 0, 0, 0, 0, 0, 0, 0, 0, 0,
       0, 0, 0, 0, 0, 0, 0, 0, 0, 0, 0, 0, 0, 0, 0, 0,
       0, 0, 0, 0, 0, 0, 0, 0.5, 3.1, 0.5, 0, 0, 0, 0, 0, 0,
       0, 0, 0, 0, 0, 0, 0, 0, 0, 0, 1.0, 3.5, 0.5, 0, 0, 0]
r22 = [0, 0, 0, 0, 0, 0, 0, 0, 0, 0, 0, 0, 0, 0, 0, 0,
       0, 0, 0, 0, 0, 0, 0, 0, 0, 0, 0, 0, 0, 0, 0, 0,
       0, 0, 0, 0, 0, 0, 0, 0, 0, 0, 0, 0, 0, 0, 0, 0,
       0, 0, 0, 0, 0, 0, 0, 0, 0, 0, 0, 0.5, 0, 0, 0, 0]
r23 = [0, 0, 0, 0, 0, 0, 0, 0, 0, 0, 0, 0, 0, 0, 0, 0,
       0, 0, 0, 0, 0, 0, 0, 0, 0, 0, 0, 0, 0, 0, 0, 0,
       0, 0, 0, 0, 0, 0, 0, 0, 0, 0, 0, 0, 0, 0, 0, 0,
       0, 0.5, 0, 0, 0, 0, 0, 3.0, 0, 0, 0, 0, 0, 1.8, 0.8, 0]
r24 = [0, 0, 0, 0, 0, 0, 0, 0, 0, 0, 0, 0, 0, 0, 0, 0,
       0, 0, 0, 0, 0, 2.5, 0, 0, 0, 0, 0, 0, 5.1, 23.0, 19.1, 15.1,
       0.8, 2.2, 0.5, 0, 0, 0, 0, 0, 0, 8.4, 3.3, 0.5, 0, 0, 0, 0,
       0, 0, 0, 3.5, 8.9, 3.5, 0.5, 0, 0, 0, 0, 0, 0, 0, 0, 0]
r25 = [0, 0, 0, 0, 0, 0, 0, 0, 0, 0, 0, 0, 0, 0, 0, 0,
       0, 0, 0, 0, 0, 0, 0, 0, 0, 0, 0, 0, 0, 0, 0, 0,
       0, 0, 0, 0, 0, 0, 0, 0, 0, 0, 0, 0, 0, 0, 0, 0,
       0, 0, 0, 2.0, 12.0, 55.1, 4.9, 0.5, 0, 0, 0, 0, 0, 0, 0, 0]
r26 = [0, 0, 0, 0, 0, 0, 0, 0, 0, 0, 0, 0, 0, 0, 0, 0,
       0, 0, 0, 0, 0, 0, 0, 0, 0.4, 0, 0, 0, 0, 0, 0, 0,
       0, 0, 0, 0, 0, 0, 0, 0, 0, 0, 0, 0, 0, 0, 0, 0,
       0, 0, 0, 0, 0, 0, 1.0, 0, 0, 0.8, 0, 0, 0, 0, 0, 0]
r27 = [0, 0, 0, 0, 0, 0, 0, 0, 0, 0, 0, 0, 0, 0, 0, 0,
       0, 0, 0, 0, 0, 0, 0, 2.3, 0.5, 0, 0, 0, 0, 0, 0, 0,
       0, 0, 0, 0, 0, 0, 0, 0, 0, 0, 0, 0, 0, 0, 0, 0,
       0, 0, 0, 0, 0, 0, 0, 0.6, 0, 0, 0, 0, 0, 0, 0, 0]
r28 = [0, 0, 0, 0, 0, 0, 0, 0, 0, 0, 0, 0, 0, 0, 0, 0,
       0, 0, 0, 0, 0, 0, 0, 0, 0, 0, 0, 0, 1.2, 0, 0, 0,
       0, 0, 0, 0, 0, 0, 0, 0, 0, 0, 0, 0, 0, 0, 0, 0,
       0, 0, 0, 0, 0, 0, 0, 0, 1.5, 1.2, 0.8, 0, 0, 0, 0, 0]
r29 = [0, 0, 0, 0, 0, 0, 0, 0, 0, 0, 0, 0, 0, 0, 0, 0,
       0, 0, 0, 0, 0, 0, 0, 0, 0, 0, 0, 0, 3.1, 4.5, 0.5, 0,
       0, 0, 0, 0, 0, 0, 0, 0, 0, 0, 0, 0, 0, 0, 0, 0,
       0, 0, 0, 0, 0, 0, 1.0, 5.6, 1.0, 0, 0.4, 0, 0, 0, 0, 0]
r30 = [0, 0, 0, 0, 0, 0, 0, 0, 0, 0, 0, 0, 0, 0, 0, 0,
       0, 0, 0, 0, 0.3, 0, 0, 0, 0, 0, 0.6, 0, 0, 0, 0, 0,
       0, 0, 0, 0, 0, 0, 0, 0, 0, 0, 0, 0, 0, 0, 0, 0,
       0, 0, 0, 0, 0, 0, 0, 0, 0, 0.5, 0, 0, 0, 0, 0, 0]

pert_p = [p01, p02, p03, p04, p05, p06, p07, p08, p09, p10, p11, p12, p13, p14, p15,
          p16, p17, p18, p19, p20, p21, p22, p23, p24, p25, p26, p27, p28, p29, p30]
pert_rr = [r01, r02, r03, r04, r05, r06, r07, r08, r09, r10, r11, r12, r13, r14, r15,
           r16, r17, r18, r19, r20, r21, r22, r23, r24, r25, r26, r27, r28, r29, r30]

for s in pert_p + [mean_p, ctl_p, gfs_p]:
    assert len(s) == len(hours)
for s in pert_rr + [mean_rr, ctl_rr, gfs_rr]:
    assert len(s) == len(hours_rr)

W, H = 740, 700
mono = "DejaVu Sans Mono"
plt.rcParams["font.family"] = mono


def fx(px):
    return px / W


def fy(py):
    return 1 - py / H


fig = plt.figure(figsize=(W / 100, H / 100), dpi=100)
ax = fig.add_axes([fx(50), fy(600), 640 / W, 600 / H])
ax.set_xlim(0, 384)
ax.set_ylim(967.24, 1052.96)

# grid
for h in day_hours:
    ax.axvline(h, color="#c0c0c0", lw=0.8, zorder=0)
for p in range(975, 1051, 5):
    ax.axhline(p, color="#c0c0c0", lw=0.8, zorder=0)

axr = ax.twinx()
axr.set_ylim(967.24 - 975, 1052.96 - 975)

for k in range(30):
    c = pert_colors[k]
    ax.plot(hours, pert_p[k], color=c, lw=0.75, marker="+", ms=2.8, mew=0.7, zorder=2)
    axr.plot(hours_rr, pert_rr[k], color=c, lw=0.75, marker="+", ms=2.8, mew=0.7, zorder=2)

ax.plot(hours, gfs_p, color="black", lw=2.1, zorder=3)
ax.plot(hours, ctl_p, color="#0000ff", lw=2.1, zorder=4)
ax.plot(hours, mean_p, color="#ff0000", lw=2.9, zorder=5)
axr.plot(hours_rr, gfs_rr, color="black", lw=1.8, zorder=3)
axr.plot(hours_rr, ctl_rr, color="#0000ff", lw=1.6, zorder=4)
axr.plot(hours_rr, mean_rr, color="#ff0000", lw=2.9, zorder=5)

# axes styling
for a in (ax, axr):
    a.spines["top"].set_visible(False)
ax.spines["right"].set_visible(False)
axr.spines["left"].set_visible(False)
axr.spines["bottom"].set_visible(False)
ax.spines["left"].set_linewidth(1.0)
ax.spines["bottom"].set_linewidth(1.0)
axr.spines["right"].set_linewidth(1.0)

ax.set_yticks(range(975, 1051, 5))
ax.tick_params(axis="y", length=3, width=0.8, pad=3, labelsize=7.4)
axr.set_yticks(range(0, 76, 5))
axr.tick_params(axis="y", length=0, pad=13.5, labelsize=7.4)
for lab in axr.get_yticklabels():
    lab.set_horizontalalignment("left")

ax.set_xticks(day_hours)
ax.set_xticklabels(day_labels, rotation=90, fontsize=7.4, va="top", ha="center")
ax.tick_params(axis="x", length=0, pad=2)
for lab in ax.get_xticklabels():
    lab.set_transform(lab.get_transform() + ScaledTranslation(0.05, 0, fig.dpi_scale_trans))

ax.text(4.8, 1020.5, "Pression", fontsize=7.4, va="center")
ax.text(4.8, 976.6, "Précipitations", fontsize=7.4, va="center")

fig.text(fx(20), fy(607), "(hPa)", fontsize=7.4, va="center")
fig.text(fx(708), fy(607), "(mm)", fontsize=7.4, va="center")

# legend
fig.add_artist(Line2D([fx(35), fx(66)], [fy(647), fy(647)], color="#ff0000", lw=3, transform=fig.transFigure))
fig.text(fx(75), fy(647), "Moyenne des scénarios", fontsize=7.4, va="center")
fig.add_artist(Line2D([fx(225), fx(257)], [fy(637), fy(637)], color="#0000ff", lw=3, transform=fig.transFigure))
fig.text(fx(264), fy(637), "Run de contrôle", fontsize=7.4, va="center")
fig.add_artist(Line2D([fx(225), fx(257)], [fy(647), fy(647)], color="black", lw=3, transform=fig.transFigure))
fig.text(fx(264), fy(647), "Run GFS", fontsize=7.4, va="center")
fig.text(fx(339), fy(652), "30 Perts.", fontsize=7.4, va="center")
fig.text(fx(255), fy(660), "Altitude du modele : 552m", fontsize=7.4, va="center", ha="center")

for k in range(30):
    x0 = 400 + 11 * k
    fig.add_artist(Rectangle((fx(x0), fy(656.5)), 10 / W, 7 / H, facecolor=pert_colors[k],
                             edgecolor="none", transform=fig.transFigure))
    fig.text(fx(x0 + 5), fy(644), "%02d" % (k + 1), fontsize=5.6, ha="center", va="center",
             weight="bold")

fig.add_artist(Rectangle((fx(20.5), fy(699)), 421 / W, 32 / H, fill=False, edgecolor="black",
                         lw=1.0, transform=fig.transFigure))
fig.text(fx(29), fy(677), "Diagramme des ensembles GEFS sur 384h : 40.3N 0.1E", fontsize=8.3,
         weight="bold", va="center")
fig.text(fx(29), fy(692), "Pression au niveau de la mer (hPa) , précipitations (mm)", fontsize=7.2,
         va="center")
fig.text(fx(450), fy(671), "Ensemble GEFS du 26/08/2026 - 12Z", fontsize=7.4, va="center")
fig.text(fx(450), fy(692), "Copyright 2026 Meteociel.fr", fontsize=8.3, weight="bold", va="center")

fig.savefig("out.png", dpi=100, facecolor="white")
